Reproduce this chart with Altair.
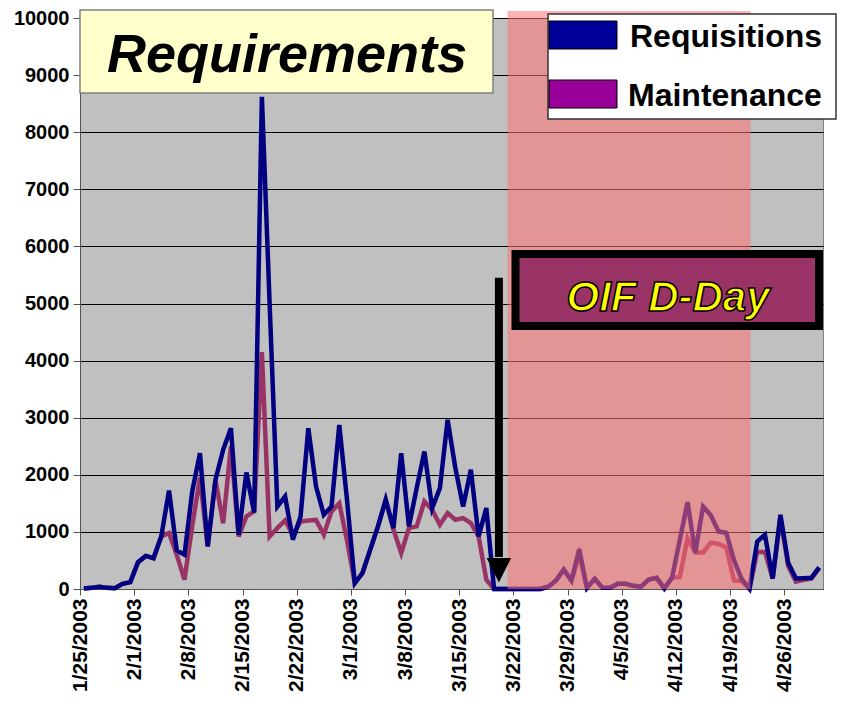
import altair as alt
import pandas as pd

# ---- data ----
start_date = "2003-01-25"
end_date = "2003-05-01"
days = pd.date_range(start_date, periods=96, freq="D")

requisitions = [10, 20, 40, 20, 15, 90, 120, 470, 580, 540,
                920, 1725, 676, 600, 1710, 2380, 746, 1910, 2440, 2816,
                950, 2040, 1340, 8620, 5000, 1445, 1620, 863, 1270, 2816,
                1795, 1300, 1445, 2874, 1562, 105, 280, 690, 1096, 1562,
                1067, 2379, 1096, 1766, 2408, 1417, 1766, 2962, 2116, 1446,
                2087, 921, 1417, 0, 0, 0, 0, 0, 0, 0,
                40, 150, 340, 150, 696, 20, 180, 20, 20, 90,
                90, 55, 40, 167, 196, 12, 200, 860, 1520, 637,
                1445, 1290, 1008, 984, 507, 170, 5, 830, 950, 183,
                1300, 460, 183, 190, 195, 378]

maintenance = [10, 20, 40, 20, 15, 90, 120, 470, 580, 540,
               920, 980, 600, 163, 1100, 1950, 746, 1910, 1150, 2500,
               920, 1270, 1360, 4150, 920, 1067, 1200, 950, 1180, 1200,
               1210, 950, 1360, 1500, 850, 100, 280, 690, 1096, 1562,
               1044, 630, 1067, 1096, 1533, 1388, 1125, 1330, 1213, 1242,
               1154, 921, 163, 0, 0, 0, 0, 0, 0, 0,
               40, 150, 340, 150, 600, 20, 180, 20, 20, 90,
               90, 55, 40, 167, 196, 12, 200, 210, 890, 640,
               640, 810, 790, 730, 150, 140, 5, 650, 650, 180,
               1250, 400, 130, 160, 180, 360]

tick_dates = ["2003-01-25", "2003-02-01", "2003-02-08", "2003-02-15",
              "2003-02-22", "2003-03-01", "2003-03-08", "2003-03-15",
              "2003-03-22", "2003-03-29", "2003-04-05", "2003-04-12",
              "2003-04-19", "2003-04-26"]
y_ticks = [0, 1000, 2000, 3000, 4000, 5000, 6000, 7000, 8000, 9000, 10000]

war_start = "2003-03-21T06:00:00"
war_end = "2003-04-21T15:00:00"
dday = "2003-03-20T03:00:00"

FONT = "Liberation Sans"


def dt(s):
    t = pd.Timestamp(s)
    return alt.DateTime(year=t.year, month=t.month, date=t.day,
                        hours=t.hour, minutes=t.minute)


df = pd.DataFrame({
    "date": [(d + pd.Timedelta(hours=12)).strftime("%Y-%m-%dT%H:%M:%S") for d in days],
    "Requisitions": requisitions,
    "Maintenance": maintenance,
})

xscale = alt.Scale(domain=[dt(start_date), dt(end_date)])
yscale = alt.Scale(domain=[0, 10000], nice=False)

x_axis = alt.Axis(values=[dt(s) for s in tick_dates], format="%-m/%-d/%Y",
                  labelAngle=270, labelOverlap=False, labelFlush=False,
                  labelFont=FONT, labelFontWeight="bold", labelFontSize=21,
                  labelColor="black", tickSize=6, tickColor="#555555",
                  domainColor="#555555", labelPadding=3, grid=False)
y_axis = alt.Axis(values=y_ticks, format="d", labelFont=FONT,
                  labelFontWeight="bold", labelFontSize=20, labelColor="black",
                  tickSize=7, tickColor="#555555", domainColor="#555555",
                  labelPadding=4, grid=True, gridColor="black", gridWidth=1)


def X(field):
    return alt.X(field, scale=xscale, title=None, axis=x_axis)


def Y(field):
    return alt.Y(field, scale=yscale, title=None, axis=y_axis)


base = alt.Chart(df)
line_m = base.mark_line(color="#993366", strokeWidth=4.5).encode(x=X("date:T"), y=Y("Maintenance:Q"))
line_r = base.mark_line(color="#000080", strokeWidth=4.5).encode(x=X("date:T"), y=Y("Requisitions:Q"))

one = alt.Data(values=[{"s": war_start, "e": war_end, "d": dday,
                        "top": 5450, "bot": 560, "tri": 330}])

shade = alt.Chart(one).mark_rect(color="#FF7070", opacity=0.55).encode(
    x=X("s:T"), x2="e:T", y=alt.value(-7), y2=alt.value(571))

arrow_line = alt.Chart(one).mark_rule(color="black", strokeWidth=8).encode(
    x=X("d:T"), y=Y("top:Q"), y2="bot:Q")
arrow_head = alt.Chart(one).mark_point(
    shape="M -1 -1 L 1 -1 L 0 1 Z", filled=True, color="black", opacity=1, size=600).encode(
    x=X("d:T"), y=Y("tri:Q"))

blank = alt.Data(values=[{}])

oif_box = alt.Chart(blank).mark_rect(fill="#993366", stroke="black", strokeWidth=8).encode(
    x=alt.value(435.5), x2=alt.value(739), y=alt.value(236), y2=alt.value(308))
oif_text = alt.Chart(blank).mark_text(
    text="OIF D-Day", font=FONT, fontSize=42, fontWeight="bold", fontStyle="italic",
    color="#FFFF00", stroke="black", strokeWidth=1.5, align="center",
    baseline="alphabetic").encode(x=alt.value(588), y=alt.value(293))

req_box = alt.Chart(blank).mark_rect(fill="#FFFFCC", stroke="#808080", strokeWidth=1.5).encode(
    x=alt.value(0), x2=alt.value(413), y=alt.value(-8), y2=alt.value(75))
req_text = alt.Chart(blank).mark_text(
    text="Requirements", font=FONT, fontSize=54, fontWeight="bold", fontStyle="italic",
    color="black", align="center", baseline="alphabetic").encode(
    x=alt.value(207), y=alt.value(54))

leg_box = alt.Chart(blank).mark_rect(fill="white", stroke="#333333", strokeWidth=1.5).encode(
    x=alt.value(468), x2=alt.value(756), y=alt.value(-4), y2=alt.value(101))
leg_sw1 = alt.Chart(blank).mark_rect(fill="#000099", stroke="black", strokeWidth=1).encode(
    x=alt.value(469), x2=alt.value(537), y=alt.value(3), y2=alt.value(31))
leg_sw2 = alt.Chart(blank).mark_rect(fill="#990099", stroke="black", strokeWidth=1).encode(
    x=alt.value(469), x2=alt.value(537), y=alt.value(62), y2=alt.value(90))
leg_t1 = alt.Chart(blank).mark_text(
    text="Requisitions", font=FONT, fontSize=32, fontWeight="bold", color="black",
    align="left", baseline="alphabetic").encode(x=alt.value(550), y=alt.value(29))
leg_t2 = alt.Chart(blank).mark_text(
    text="Maintenance", font=FONT, fontSize=32, fontWeight="bold", color="black",
    align="left", baseline="alphabetic").encode(x=alt.value(548), y=alt.value(88))

chart = alt.layer(
    line_m, line_r, shade, arrow_line, arrow_head,
    oif_box, oif_text, req_box, req_text,
    leg_box, leg_sw1, leg_sw2, leg_t1, leg_t2
).properties(
    width=743, height=571,
    padding={"left": 72, "top": 10, "right": 14, "bottom": 110},
    autosize=alt.AutoSizeParams(type="none"),
    background="white",
).configure_view(fill="#C0C0C0", stroke="#808080", strokeWidth=1)

chart.save("out.html", embed_options={"renderer": "svg", "actions": False})
